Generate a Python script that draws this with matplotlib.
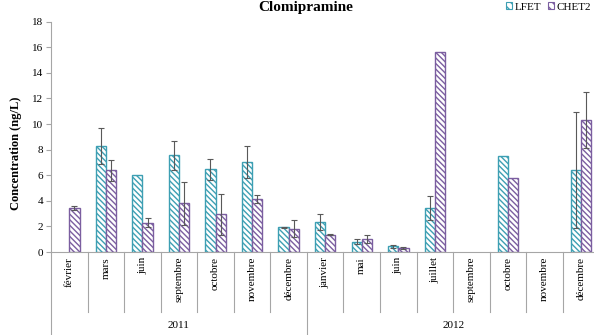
import numpy as np
import matplotlib
matplotlib.use("Agg")
import matplotlib.pyplot as plt
from matplotlib.patches import Patch
import matplotlib.transforms as mtransforms

plt.rcParams['font.family'] = ['Liberation Serif', 'DejaVu Serif']
plt.rcParams['hatch.linewidth'] = 1.0

nan = np.nan
months = ['février', 'mars', 'juin', 'septembre', 'octobre', 'novembre', 'décembre',
          'janvier', 'mai', 'juin', 'juillet', 'septembre', 'octobre', 'novembre', 'décembre']
year_labels = ['2011', '2012']
year_counts = [7, 8]

lfet = [nan, 8.3, 6.05, 7.55, 6.45, 7.05, 1.95, 2.35, 0.82, 0.44, 3.45, nan, 7.52, nan, 6.4]
lfet_err = [0, 1.43, 0, 1.13, 0.8, 1.25, 0.04, 0.6, 0.17, 0.1, 0.95, 0, 0, 0, 4.55]
chet2 = [3.45, 6.4, 2.3, 3.8, 2.95, 4.15, 1.82, 1.36, 1.01, 0.34, 15.6, nan, 5.82, nan, 10.33]
chet2_err = [0.13, 0.82, 0.33, 1.68, 1.6, 0.3, 0.65, 0.04, 0.28, 0.07, 0, 0, 0, 0, 2.2]

c_lfet = '#3d9fb3'
c_chet = '#7b5ea0'
grey = '#a6a6a6'

W, H = 594, 335
fig = plt.figure(figsize=(W / 100, H / 100), dpi=100)
ax_left, ax_right, ax_top, ax_bot = 51, 599.4, 21.7, 252
ax = fig.add_axes([ax_left / W, 1 - ax_bot / H, (ax_right - ax_left) / W, (ax_bot - ax_top) / H])

x = np.arange(len(months))
bw = 0.28
hatch = '\\\\\\\\\\\\'
ax.bar(x - bw / 2, lfet, bw, facecolor='white', edgecolor=c_lfet, hatch=hatch, linewidth=1.0)
ax.bar(x + bw / 2, chet2, bw, facecolor='white', edgecolor=c_chet, hatch=hatch, linewidth=1.0)

for vals, errs, off in [(lfet, lfet_err, -bw / 2), (chet2, chet2_err, bw / 2)]:
    v = np.array(vals); e = np.array(errs)
    m = (~np.isnan(v)) & (e > 0)
    ax.errorbar(x[m] + off, v[m], yerr=e[m], fmt='none', ecolor='#595959',
                elinewidth=0.8, capsize=2.5, capthick=0.8)

ax.set_xlim(-0.5, len(months) - 0.5)
ax.set_ylim(0, 18)
ax.set_yticks(np.arange(0, 19, 2))
ax.set_xticks([])
for s in ['top', 'right']:
    ax.spines[s].set_visible(False)
for s in ['left', 'bottom']:
    ax.spines[s].set_color(grey)
    ax.spines[s].set_linewidth(0.8)
ax.tick_params(axis='y', direction='out', length=3.5, color=grey, width=0.8,
               labelsize=8, pad=2)

axh = ax_bot - ax_top
def yf(px):
    return (ax_bot - px) / axh

trans = mtransforms.blended_transform_factory(ax.transData, ax.transAxes)
boundaries = np.arange(len(months) + 1) - 0.5
year_bounds = np.concatenate([[0], np.cumsum(year_counts)]) - 0.5
for b in boundaries:
    long = np.any(np.isclose(b, year_bounds))
    ax.plot([b, b], [0, yf(334 if long else 312)], color=grey, lw=0.8,
            transform=trans, clip_on=False)

for i, mth in enumerate(months):
    ax.text(i, yf(257), mth, rotation=90, ha='center', va='top', fontsize=8,
            transform=trans)

for k, yl in enumerate(year_labels):
    c = (year_bounds[k] + year_bounds[k + 1]) / 2
    ax.text(c, yf(326), yl, ha='center', va='center', fontsize=8, transform=trans)

fig.text(306 / W, 1 - 10.5 / H, 'Clomipramine', ha='center', va='baseline',
         fontsize=11, fontweight='bold')
fig.text(16.5 / W, 1 - 153 / H, 'Concentration (ng/L)', rotation=90, ha='center',
         va='center', fontsize=9, fontweight='bold')

handles = [Patch(facecolor='white', edgecolor=c_lfet, hatch='\\\\\\\\', linewidth=0.8, label='LFET'),
           Patch(facecolor='white', edgecolor=c_chet, hatch='\\\\\\\\', linewidth=0.8, label='CHET2')]
fig.legend(handles=handles, loc='center right', bbox_to_anchor=(591 / W, 1 - 7 / H),
           ncol=2, frameon=False, fontsize=8, handlelength=0.6, handleheight=0.6,
           handletextpad=0.2, columnspacing=0.6, borderpad=0, borderaxespad=0)

fig.savefig('out.png', dpi=100)
